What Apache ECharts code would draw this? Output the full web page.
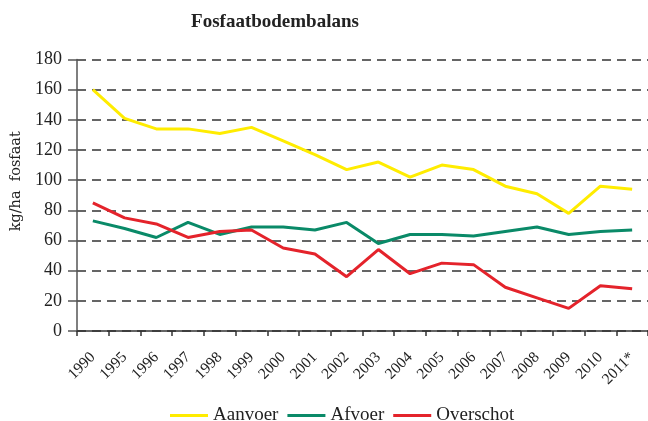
<!DOCTYPE html>
<html>
<head>
<meta charset="utf-8">
<script src="https://cdn.jsdelivr.net/npm/echarts@6/dist/echarts.min.js"></script>
<style>
  html, body { margin: 0; padding: 0; background: #fff; }
  #chart { width: 648px; height: 421px; }
</style>
</head>
<body>
<div id="chart"></div>
<script>
const years = ['1990', '1995', '1996', '1997', '1998', '1999', '2000', '2001', '2002',
  '2003', '2004', '2005', '2006', '2007', '2008', '2009', '2010', '2011*']
const aanvoer = [160, 141, 134, 134, 131, 135, 126, 117, 107, 112, 102, 110, 107, 96, 91, 78, 96, 94]
const afvoer = [73, 68, 62, 72, 64, 69, 69, 67, 72, 58, 64, 64, 63, 66, 69, 64, 66, 67]
const overschot = [85, 75, 71, 62, 66, 67, 55, 51, 36, 54, 38, 45, 44, 29, 22, 15, 30, 28]

const serif = '"Liberation Serif", "Times New Roman", serif'
const wideSerif = '"DejaVu Serif", serif'

const chart = echarts.init(document.getElementById('chart'))

const lineSeries = (name, data, color) => ({
  name,
  type: 'line',
  data,
  symbol: 'none',
  lineStyle: { color, width: 3 },
  itemStyle: { color },
  animation: false
})

chart.setOption({
  animation: false,
  title: {
    text: 'Fosfaatbodembalans',
    left: 270,
    top: 8,
    textAlign: 'center',
    textStyle: { fontFamily: serif, fontSize: 19, fontWeight: 'bold', color: '#222' }
  },
  legend: {
    top: 401,
    left: 165,
    itemWidth: 38,
    itemHeight: 3,
    itemGap: 9,
    icon: 'rect',
    textStyle: { fontFamily: serif, fontSize: 19, color: '#222' },
    data: ['Aanvoer', 'Afvoer', 'Overschot']
  },
  grid: { left: 77, right: -9, top: 59.5, bottom: 90 },
  xAxis: {
    type: 'category',
    data: years,
    boundaryGap: true,
    axisLine: { lineStyle: { color: '#333', width: 1.5 } },
    axisTick: { show: true, length: 5, lineStyle: { color: '#333', width: 1.5 } },
    axisLabel: {
      rotate: 45,
      interval: 0,
      margin: 24,
      fontFamily: serif,
      fontSize: 15.5,
      color: '#222'
    }
  },
  yAxis: {
    type: 'value',
    min: 0,
    max: 180,
    interval: 20,
    name: 'kg/ha  fosfaat',
    nameLocation: 'middle',
    nameRotate: 90,
    nameGap: 51,
    nameTextStyle: { fontFamily: wideSerif, fontSize: 14.5, color: '#222', padding: [0, 0, 0, 28] },
    axisLine: { show: true, lineStyle: { color: '#555', width: 1.5 } },
    axisTick: { show: true, length: 9, lineStyle: { color: '#555', width: 1.5 } },
    axisLabel: { fontFamily: serif, fontSize: 18, color: '#222', margin: 15 },
    splitLine: { lineStyle: { color: '#333', width: 1.5, type: [9, 6] } }
  },
  series: [
    lineSeries('Aanvoer', aanvoer, '#ffec00'),
    lineSeries('Afvoer', afvoer, '#0a8a68'),
    lineSeries('Overschot', overschot, '#e4232b')
  ]
})
</script>
</body>
</html>
